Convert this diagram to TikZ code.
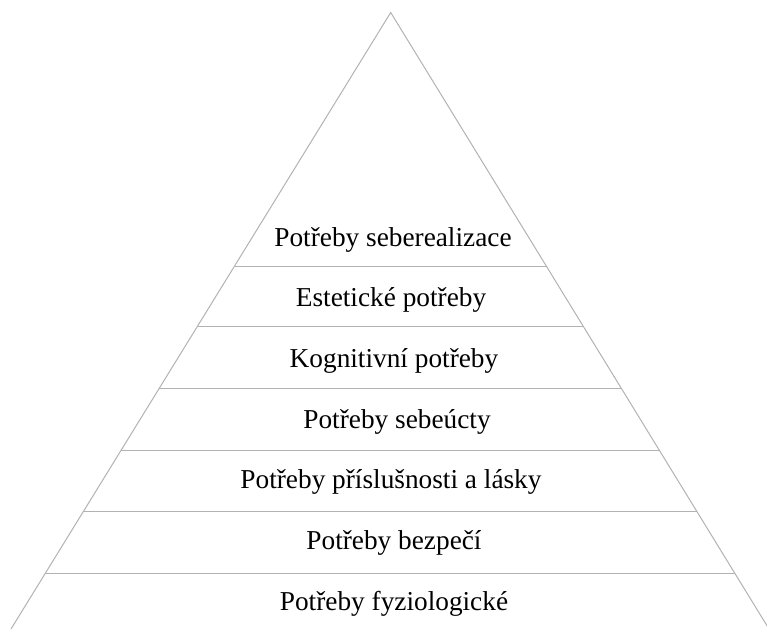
\documentclass[tikz,border=0pt]{standalone}
\usepackage{fontspec}
\setmainfont{Liberation Serif}
\usetikzlibrary{calc}
\tikzset{
	linea/.style={draw=black!30, line width=1pt},
	nivel/.style={font=\fontsize{27.3}{30}\selectfont, anchor=base}
}
\begin{document}
\begin{tikzpicture}[x=1pt,y=-1pt]
	\useasboundingbox (0,0) rectangle (767,629);
	
	% Vertice y base de la piramide
	\coordinate (cima) at (390.7,12.5);
	\coordinate (izq) at (11,629);
	\coordinate (der) at (769,629);
	
	% Lados
	\draw[linea] (izq) -- (cima) -- (der);
	
	% Divisiones horizontales
	\foreach \y in {266,326,388,450,511,573}
		\draw[linea] ($(cima)!{(\y-12.5)/616.5}!(izq)$) -- ($(cima)!{(\y-12.5)/616.5}!(der)$);
	
	% Niveles
	\node[nivel] (nivel1) at (393,246) {Potřeby seberealizace};
	\node[nivel] (nivel2) at (391,306.7) {Estetické potřeby};
	\node[nivel] (nivel3) at (394,367.3) {Kognitivní potřeby};
	\node[nivel] (nivel4) at (397,428) {Potřeby sebeúcty};
	\node[nivel] (nivel5) at (391,488.7) {Potřeby příslušnosti a lásky};
	\node[nivel] (nivel6) at (394,549.3) {Potřeby bezpečí};
	\node[nivel] (nivel7) at (394,610) {Potřeby fyziologické};
	
\end{tikzpicture}
\end{document}
